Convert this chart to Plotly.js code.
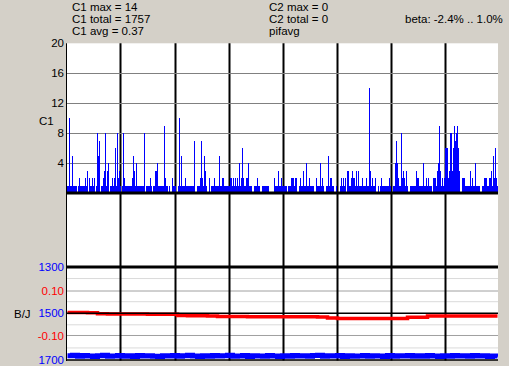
<!DOCTYPE html>
<html><head><meta charset="utf-8">
<script src="https://cdn.plot.ly/plotly-3.0.1.min.js"></script>
<style>html,body{margin:0;padding:0;background:#d4d0c8;overflow:hidden}#chart{width:509px;height:366px}</style>
</head><body><div id="chart"></div><script>
// C1 counts, one value per plotted column
const c1Counts = [
1,1,10,1,1,5,1,1,1,1,
0,1,2,1,1,1,1,1,2,1,
3,0,2,1,1,2,1,2,0,1,
8,5,7,0,1,1,2,3,8,1,
3,4,0,1,1,2,1,2,6,1,
8,2,3,1,0,1,8,2,1,1,
1,1,1,1,1,2,5,3,1,4,
1,1,1,1,1,1,1,8,0,1,
1,1,1,2,1,0,1,1,3,3,
4,1,1,1,1,1,1,9,2,1,
1,0,1,0,0,2,1,1,1,0,
0,1,10,1,5,1,1,1,2,1,
1,1,1,1,1,1,1,7,0,0,
1,1,1,2,7,2,1,5,3,1,
0,0,2,0,1,1,1,2,1,1,
1,1,5,1,1,2,2,1,1,1,
1,1,1,2,2,1,2,1,2,1,
2,1,4,1,2,6,2,1,1,2,
2,4,1,1,1,0,0,1,1,1,
2,1,1,0,0,1,1,1,1,1,
1,1,0,0,0,0,0,2,1,1,
1,3,1,1,2,1,1,1,1,1,
0,1,1,1,2,2,2,1,2,2,
0,0,1,2,1,1,3,1,1,4,
1,1,2,1,1,1,1,0,0,2,
1,1,1,4,1,2,1,0,0,1,
1,5,1,2,2,1,1,0,0,1,
0,0,0,1,2,1,2,1,2,0,
3,3,1,1,2,3,2,2,1,3,
1,3,1,1,1,2,1,1,1,2,
1,1,14,3,1,2,1,1,2,0,
0,1,0,1,2,1,1,1,1,1,
1,1,2,1,0,0,1,1,4,7,
4,2,1,1,8,2,3,2,1,3,
1,0,0,1,1,1,1,1,1,3,
2,2,1,1,1,1,4,1,1,2,
1,2,1,1,1,0,2,2,2,1,
3,4,9,3,1,2,1,2,6,6,
6,2,3,8,8,3,6,9,7,8,
9,6,3,0,0,2,2,2,1,1,
1,1,1,3,1,2,1,1,4,1,
1,1,1,0,0,1,1,2,2,2,
1,1,2,2,3,1,5,2,6,2,
1];
// beta (red, B/J panel), one sample every 10 columns
const betaValues = [
0.003,0.003,0.002,-0.002,-0.003,-0.003,-0.003,-0.003,-0.004,-0.004,
-0.005,-0.010,-0.011,-0.011,-0.012,-0.015,-0.015,-0.015,-0.016,-0.016,
-0.016,-0.016,-0.016,-0.016,-0.016,-0.017,-0.021,-0.024,-0.024,-0.024,
-0.024,-0.024,-0.024,-0.024,-0.018,-0.018,-0.012,-0.012,-0.012,-0.012,
-0.012,-0.012,-0.012,-0.012];
// pifavg (blue, B/J panel), one sample every 5 columns
const pifValues = [
1684,1682,1686,1683,1685,1687,1684,1682,1686,1685,
1683,1686,1684,1687,1683,1685,1684,1686,1688,1684,
1685,1683,1686,1684,1682,1685,1687,1684,1686,1683,
1685,1684,1682,1686,1685,1683,1687,1684,1685,1686,
1683,1685,1688,1684,1686,1683,1685,1684,1686,1683,
1682,1686,1684,1685,1683,1687,1684,1686,1685,1683,
1686,1684,1685,1687,1683,1686,1684,1685,1683,1686,
1684,1686,1683,1685,1687,1684,1686,1683,1685,1684,
1686,1683,1685,1684,1687,1685,1688];
const c1TickVals = [4, 8, 12, 16, 20];
const blueTickVals = [1300, 1500, 1700];
const redTickVals = [0.10, -0.10];
const redTickText = ['0.10', '-0.10'];
const blueMinorGrid = [1350, 1450, 1550, 1650];
const dividerCols = [53, 108, 162, 216, 270, 324, 378];
const headerLeft = ['C1 max = 14', 'C1 total = 1757', 'C1 avg = 0.37'];
const headerMid = ['C2 max = 0', 'C2 total = 0', 'pifavg'];
const betaLabel = 'beta: -2.4% .. 1.0%';

const W = 509, H = 366;
const fx = x => x / W, fy = y => 1 - y / H;
const FONT = 'Liberation Sans, Arial, sans-serif';

const colX = c1Counts.map((_, i) => i);
const betaX = betaValues.map((_, i) => i * 10);
const pifX = pifValues.map((_, i) => i * 5);

const traces = [
  {type: 'bar', x: colX, y: c1Counts, xaxis: 'x', yaxis: 'y', width: 1,
   marker: {color: '#0000ff', line: {width: 0}}, hoverinfo: 'skip'},
  {type: 'scatter', mode: 'lines', x: pifX, y: pifValues, xaxis: 'x', yaxis: 'y2',
   line: {color: '#0000ff', width: 5, shape: 'hv'}, hoverinfo: 'skip'},
  {type: 'scatter', mode: 'lines', x: betaX, y: betaValues, xaxis: 'x', yaxis: 'y3',
   line: {color: '#ff0000', width: 3.5, shape: 'hv'}, hoverinfo: 'skip'}
];

const shapes = [];
const hline = (y, color, width, layer) => ({type: 'line', xref: 'paper', yref: 'paper', x0: fx(67), x1: fx(498),
  y0: fy(y), y1: fy(y), line: {color: color, width: width}, layer: layer || 'above'});
// middle empty panel
shapes.push({type: 'rect', xref: 'paper', yref: 'paper', x0: fx(67), x1: fx(498), y0: fy(267), y1: fy(193),
  fillcolor: '#ffffff', line: {width: 0}, layer: 'below'});
// B/J panel grid
blueMinorGrid.forEach(v => shapes.push({type: 'line', xref: 'paper', yref: 'y2', x0: fx(67), x1: fx(498), y0: v, y1: v,
  line: {color: '#dadada', width: 1}, layer: 'below'}));
redTickVals.forEach(v => shapes.push({type: 'line', xref: 'paper', yref: 'y3', x0: fx(67), x1: fx(498), y0: v, y1: v,
  line: {color: '#a0a0a0', width: 1}, layer: 'below'}));
// vertical dividers
dividerCols.forEach(c => shapes.push({type: 'line', xref: 'x', yref: 'paper', x0: c, x1: c, y0: fy(360.5), y1: fy(43.3),
  line: {color: '#000000', width: 2}, layer: 'below'}));
// strong horizontal lines
shapes.push(hline(193, '#000', 3));
shapes.push(hline(267, '#000', 3));
shapes.push({type: 'line', xref: 'paper', yref: 'y2', x0: fx(67), x1: fx(498), y0: 1500, y1: 1500, line: {color: '#000', width: 1.5}, layer: 'above'});
shapes.push(hline(360, '#000', 1.5));
// left border
shapes.push({type: 'line', xref: 'paper', yref: 'paper', x0: fx(66.5), x1: fx(66.5), y0: fy(361), y1: fy(43.3), line: {color: '#000', width: 1}});

const annotations = [];
const rowY = [7, 19, 31];
const txt = (t, x, y, anchor) => ({text: t, xref: 'paper', yref: 'paper', x: fx(x), y: fy(y),
  xanchor: anchor || 'left', yanchor: 'middle', showarrow: false, font: {family: FONT, size: 11.5, color: '#000'}});
headerLeft.forEach((t, i) => annotations.push(txt(t, 70, rowY[i])));
headerMid.forEach((t, i) => annotations.push(txt(t, 267, rowY[i])));
annotations.push(txt(betaLabel, 505, 19, 'right'));
annotations.push(txt('C1', 37, 121));
annotations.push(txt('B/J', 12, 314));

const layout = {
  width: W, height: H, margin: {l: 0, r: 0, t: 0, b: 0},
  paper_bgcolor: '#d4d0c8', plot_bgcolor: '#ffffff',
  showlegend: false, bargap: 0,
  font: {family: FONT, size: 11, color: '#000'},
  xaxis: {domain: [fx(67), fx(498)], range: [-0.5, c1Counts.length - 0.5], anchor: 'y',
    showticklabels: false, showgrid: false, zeroline: false, ticks: '', fixedrange: true},
  yaxis: {domain: [fy(193.3), fy(43.3)], range: [0, 20], tickvals: c1TickVals, ticks: '',
    gridcolor: '#808080', gridwidth: 1, zeroline: false, showline: false,
    tickfont: {family: FONT, size: 11.5, color: '#000'}, ticklabelstandoff: 2},
  yaxis2: {domain: [fy(359.5), fy(267)], range: [1700, 1300], tickvals: blueTickVals, ticks: '', anchor: 'x',
    showgrid: false, zeroline: false, tickfont: {family: FONT, size: 11.5, color: '#0000ff'}, ticklabelstandoff: 2},
  yaxis3: {overlaying: 'y2', side: 'left', anchor: 'x', range: [-0.208, 0.208], tickvals: redTickVals, ticktext: redTickText,
    ticks: '', showgrid: false, zeroline: false, tickfont: {family: FONT, size: 11.5, color: '#ff0000'}, ticklabelstandoff: 2},
  shapes: shapes, annotations: annotations
};
Plotly.newPlot('chart', traces, layout, {staticPlot: true, displayModeBar: false});
</script></body></html>
